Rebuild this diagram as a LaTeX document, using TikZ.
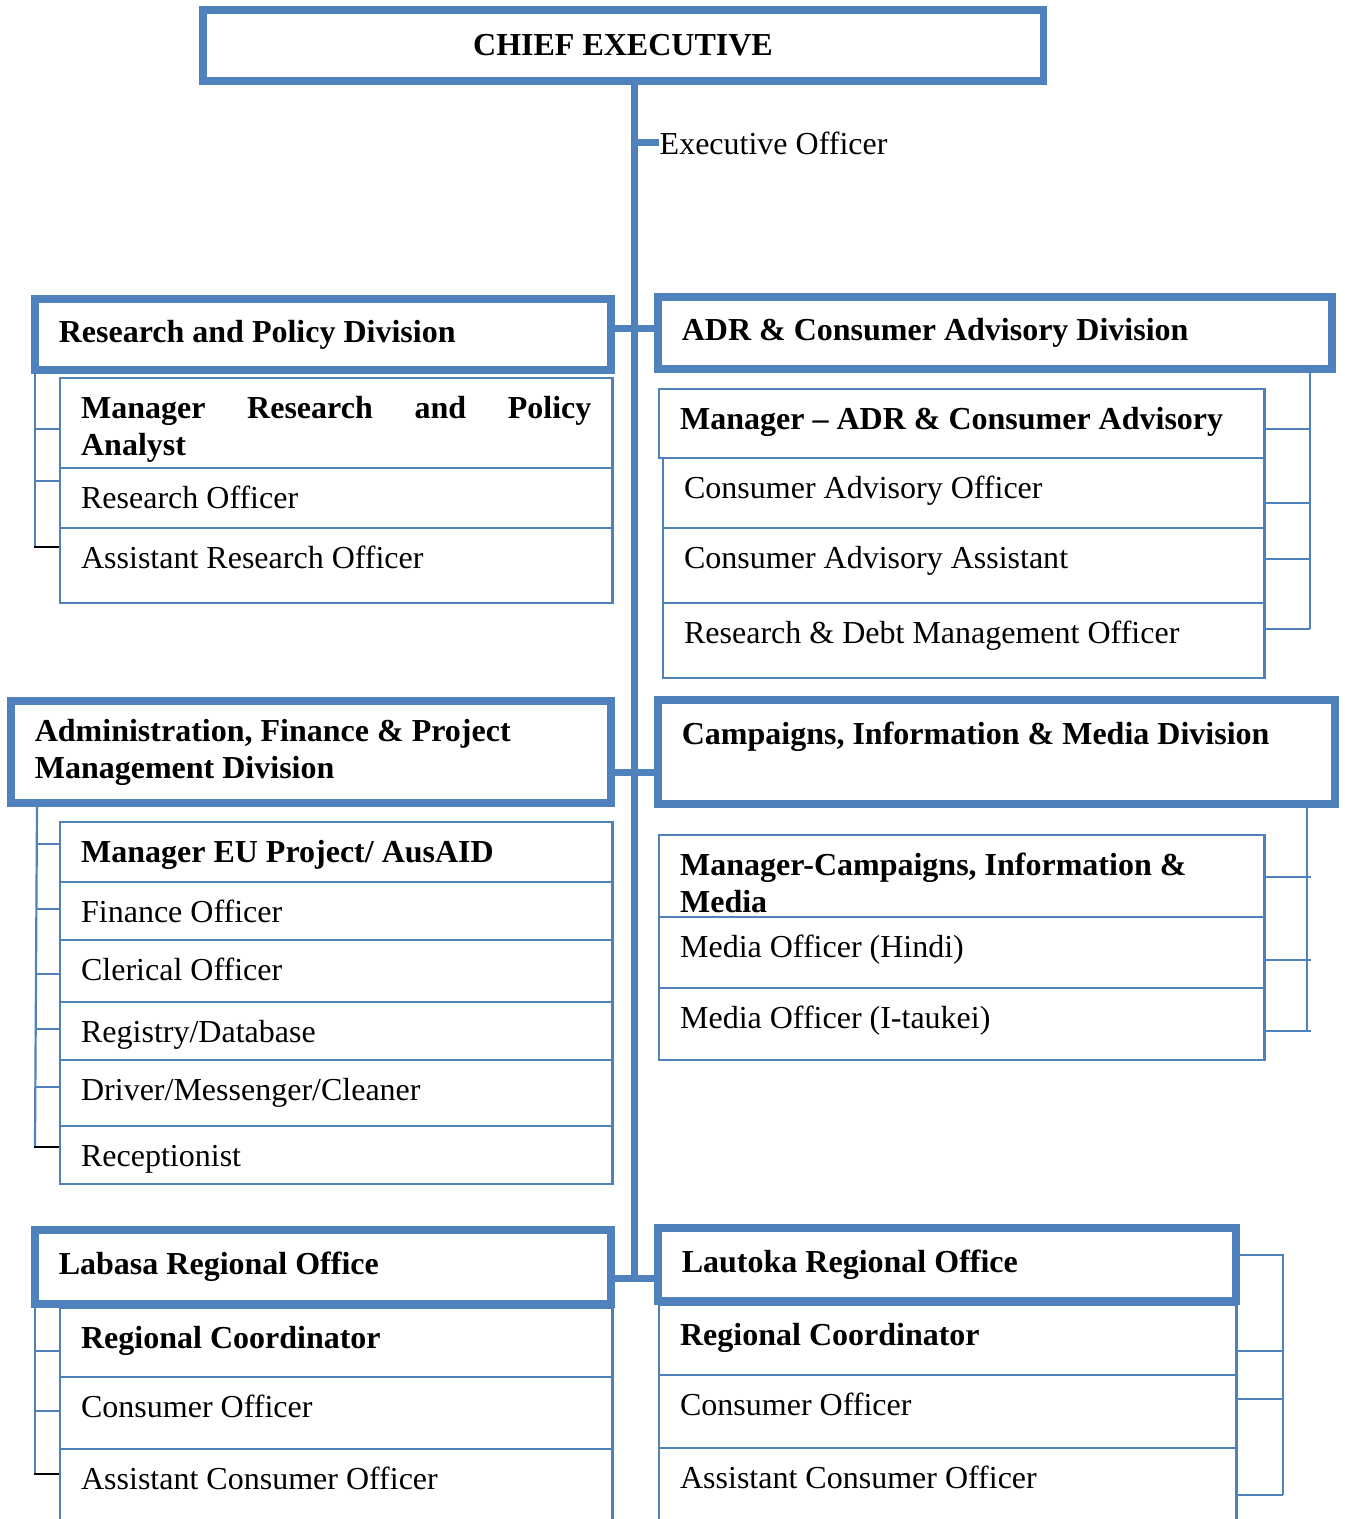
\documentclass[tikz,border=0pt]{standalone}
\usepackage{fontspec}
\setmainfont{Liberation Serif}
\usepackage{tikz}
\definecolor{orgblue}{HTML}{4F81BD}
\hyphenpenalty=10000

\begin{document}
\begin{tikzpicture}[x=0.01cm, y=-0.01cm,
    every node/.style={font=\fontsize{9.1}{10.5}\selectfont},
    headbox/.style={draw=orgblue, line width=0.075cm, inner xsep=0.24cm, inner ysep=0pt, align=justify,
        font=\fontsize{9.1}{10.5}\selectfont\bfseries},
    rowbox/.style 2 args={draw=orgblue, line width=0.022cm, anchor=north west, inner xsep=0.21cm, inner ysep=0pt,
        align=justify, minimum width=#1, text width=#2, text height=0.40cm},
    trunk/.style={draw=orgblue, line width=0.07cm},
    twig/.style={draw=orgblue, line width=0.022cm},
    twigend/.style={draw=black, line width=0.022cm}]
    
    % page frame
    \useasboundingbox (0,0) rectangle (1344,1519);
    \clip (0,0) rectangle (1344,1519);
    
    % head of the chart
    \node[headbox, align=center, minimum width=8.40cm, minimum height=0.71cm] (ce) at (623,45.5) {CHIEF EXECUTIVE};
    \node[anchor=west, inner sep=0pt] (eo) at (659,143) {Executive Officer};
    \coordinate (trunkend) at (634,1278);
    
    % divisions and regional offices
    \node[headbox, minimum width=5.76cm, minimum height=0.71cm, text width=5.28cm] (rpd) at (323,334.5) {Research and Policy Division};
    \node[headbox, minimum width=6.74cm, minimum height=0.72cm, text width=6.26cm] (adr) at (995,333) {ADR \& Consumer Advisory Division};
    \node[headbox, minimum width=6.00cm, minimum height=1.02cm, text width=5.52cm] (afd) at (311,752) {Administration, Finance \& Project\\Management Division};
    \node[headbox, minimum width=6.77cm, minimum height=1.04cm, text width=6.29cm] (cim) at (996.5,752) {Campaigns, Information \& Media Division\\\mbox{}};
    \node[headbox, minimum width=5.76cm, minimum height=0.74cm, text width=5.28cm] (lab) at (323,1267) {Labasa Regional Office};
    \node[headbox, minimum width=5.78cm, minimum height=0.73cm, text width=5.30cm] (lau) at (947,1264.5) {Lautoka Regional Office};
    
    % main lines
    \draw[trunk] (ce.south -| trunkend) -- (trunkend);
    \draw[trunk] (eo.west -| trunkend) -- (eo.west);
    \draw[trunk] (rpd.east |- 0,329) -- (adr.west |- 0,329);
    \draw[trunk] (afd.east |- 0,772) -- (cim.west |- 0,772);
    \draw[trunk] (lab.east |- trunkend) -- (lau.west |- trunkend);
    
    % Research and Policy posts
    \foreach \nm/\ya/\yb/\txt in {rp1/377/467/{\bfseries Manager Research and Policy Analyst},
        rp2/467/527/Research Officer, rp3/527/602/Assistant Research Officer} {
        \pgfmathsetmacro\dep{(\yb-\ya-40)*0.2845}
        \node[rowbox={5.52cm}{5.10cm}, text depth=\dep pt] (\nm) at (59,\ya) {\txt};
    }
    \draw[twig] (rpd.south -| 35,0) -- (35,547);
    \foreach \yy in {429,481}
        \draw[twig] (35,\yy) -- (rp1.west |- 0,\yy);
    \draw[twigend] (34,547) -- (rp3.west |- 0,547);
    
    % ADR posts
    \foreach \nm/\xa/\ya/\yb/\txt in {ad1/658/388/457/{\bfseries Manager -- ADR \& Consumer Advisory},
        ad2/662/457/527/Consumer Advisory Officer, ad3/662/527/602/Consumer Advisory Assistant,
        ad4/662/602/677/Research \& Debt Management Officer} {
        \pgfmathsetmacro\dep{(\yb-\ya-40)*0.2845}
        \pgfmathsetmacro\wbox{(1263-\xa)*0.2845}
        \pgfmathsetmacro\wtxt{(1263-\xa-42)*0.2845}
        \node[rowbox={\wbox pt}{\wtxt pt}, text depth=\dep pt] (\nm) at (\xa,\ya) {\txt};
    }
    \draw[twig] (adr.south -| 1310,0) -- (1310,629);
    \foreach \yy in {429,503,559,629}
        \draw[twig] (ad1.east |- 0,\yy) -- (1310,\yy);
    
    % Administration posts
    \foreach \nm/\ya/\yb/\txt in {af1/821/881/{\bfseries Manager EU Project/ AusAID},
        af2/881/939/Finance Officer, af3/939/1001/Clerical Officer, af4/1001/1059/{Registry/Database},
        af5/1059/1125/{Driver/Messenger/Cleaner}, af6/1125/1183/Receptionist} {
        \pgfmathsetmacro\dep{(\yb-\ya-40)*0.2845}
        \node[rowbox={5.52cm}{5.10cm}, text depth=\dep pt] (\nm) at (59,\ya) {\txt};
    }
    \draw[twig] (afd.south -| 37,0) -- (35,1147);
    \foreach \yy in {844,909,974,1029,1087}
        \draw[twig] (36,\yy) -- (af1.west |- 0,\yy);
    \draw[twigend] (34,1147) -- (af6.west |- 0,1147);
    
    % Campaigns posts
    \foreach \nm/\ya/\yb/\txt in {cm1/834/916/{\bfseries Manager-Campaigns, Information \&\\Media},
        cm2/916/987/{Media Officer (Hindi)}, cm3/987/1059/{Media Officer (I-taukei)}} {
        \pgfmathsetmacro\dep{(\yb-\ya-40)*0.2845}
        \node[rowbox={6.05cm}{5.63cm}, text depth=\dep pt] (\nm) at (658,\ya) {\txt};
    }
    \draw[twig] (cim.south -| 1307,0) -- (1307,1031);
    \foreach \yy in {877,960,1031}
        \draw[twig] (cm1.east |- 0,\yy) -- (1311,\yy);
    
    % Labasa posts
    \foreach \nm/\ya/\yb/\txt in {lb1/1307/1376/{\bfseries Regional Coordinator},
        lb2/1376/1448/Consumer Officer, lb3/1448/1530/Assistant Consumer Officer} {
        \pgfmathsetmacro\dep{(\yb-\ya-40)*0.2845}
        \node[rowbox={5.52cm}{5.10cm}, text depth=\dep pt] (\nm) at (59,\ya) {\txt};
    }
    \draw[twig] (lab.south -| 35,0) -- (35,1474);
    \foreach \yy in {1351,1411}
        \draw[twig] (35,\yy) -- (lb1.west |- 0,\yy);
    \draw[twigend] (34,1474) -- (lb3.west |- 0,1474);
    
    % Lautoka posts
    \foreach \nm/\ya/\yb/\txt in {lt1/1304/1374/{\bfseries Regional Coordinator},
        lt2/1374/1447/Consumer Officer, lt3/1447/1530/Assistant Consumer Officer} {
        \pgfmathsetmacro\dep{(\yb-\ya-40)*0.2845}
        \node[rowbox={5.77cm}{5.35cm}, text depth=\dep pt] (\nm) at (658,\ya) {\txt};
    }
    \draw[twig] (lau.east |- 0,1255) -- (1283,1255) -- (1283,1495);
    \foreach \yy in {1351,1399,1495}
        \draw[twig] (lt1.east |- 0,\yy) -- (1283,\yy);
\end{tikzpicture}
\end{document}
